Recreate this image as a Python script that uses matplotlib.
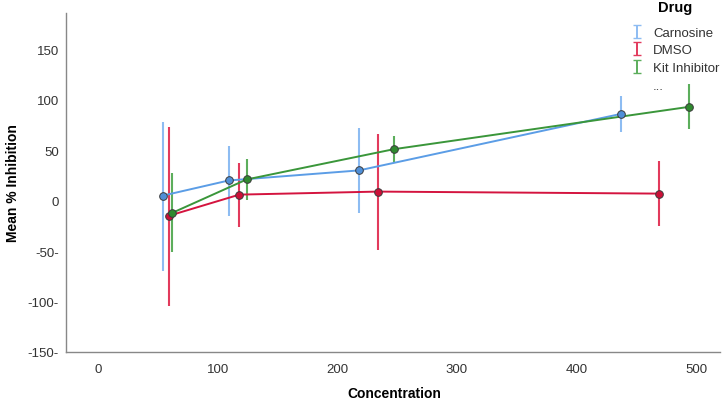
import matplotlib.pyplot as plt
import numpy as np

plt.rcParams['font.family'] = ['Liberation Sans', 'DejaVu Sans']

# values
carn_x = [54, 109, 218, 437]
carn_y = [5, 20, 30, 86]
carn_lo = [-70, -15, -12, 68]
carn_hi = [78, 54, 72, 104]

dmso_x = [59, 118, 234, 469]
dmso_y = [-15, 6, 9, 7]
dmso_lo = [-104, -26, -49, -25]
dmso_hi = [73, 37, 66, 39]

kit_x = [62, 124, 247, 494]
kit_y = [-12, 21, 51, 93]
kit_lo = [-51, 1, 38, 71]
kit_hi = [27, 41, 64, 116]

yticks = [-150, -100, -50, 0, 50, 100, 150]
ytick_labels = ['-150-', '-100-', '-50-', '0', '50', '100', '150']
xticks = [0, 100, 200, 300, 400, 500]

series = [
    ('Carnosine', carn_x, carn_y, carn_lo, carn_hi, '#5b9de6', '#8dbcf2', '#4f8fd8'),
    ('DMSO', dmso_x, dmso_y, dmso_lo, dmso_hi, '#d4143f', '#e23a5c', '#cc1038'),
    ('Kit Inhibitor', kit_x, kit_y, kit_lo, kit_hi, '#3a963a', '#5cae5c', '#2f8a2f'),
]

fig = plt.figure(figsize=(7.24, 4.02), dpi=100)
ax = fig.add_axes([0.0912, 0.122, 0.9033, 0.843])

handles = []
labels = []
for name, x, y, lo, hi, lc, ec, mc in series:
    y = np.array(y)
    err = [y - np.array(lo), np.array(hi) - y]
    ax.errorbar(x, y, yerr=err, fmt='none', ecolor=ec, elinewidth=1.5, capsize=0, zorder=2)
    ax.plot(x, y, color=lc, lw=1.4, zorder=3)
    ax.plot(x, y, 'o', ms=5.5, mfc=mc, mec='#3a3a3a', mew=0.7, zorder=4)
    h = ax.errorbar([np.nan], [np.nan], yerr=[1], fmt='none', ecolor=ec, elinewidth=1.4, capsize=3)
    handles.append(h)
    labels.append(name)

blank = plt.Line2D([], [], color='none')
handles.append(blank)
labels.append('...')

leg = ax.legend(handles, labels, loc='upper left', bbox_to_anchor=(0.855, 0.976),
                frameon=False, fontsize=9.5, handlelength=1.0, handletextpad=0.7,
                labelspacing=0.42, borderaxespad=0)
for t in leg.get_texts():
    t.set_color('#333333')
fig.text(0.933, 0.980, 'Drug', fontsize=10.5, fontweight='bold', ha='center', va='center')

ax.set_xlim(-27, 520)
ax.set_ylim(-150, 186)
ax.set_xticks(xticks)
ax.set_yticks(yticks)
ax.set_yticklabels(ytick_labels)
ax.tick_params(axis='both', length=0, labelsize=9.5, colors='#333333')
ax.tick_params(axis='x', pad=8)
ax.tick_params(axis='y', pad=5)

for s in ['top', 'right']:
    ax.spines[s].set_visible(False)
for s in ['left', 'bottom']:
    ax.spines[s].set_color('#888888')
    ax.spines[s].set_linewidth(1.0)

ax.set_xlabel('Concentration', fontsize=10, fontweight='bold', va='center')
ax.xaxis.set_label_coords(0.502, -0.12)
ax.set_ylabel('Mean % Inhibition', fontsize=10, fontweight='bold', labelpad=6)

plt.savefig('out.png', dpi=100)
